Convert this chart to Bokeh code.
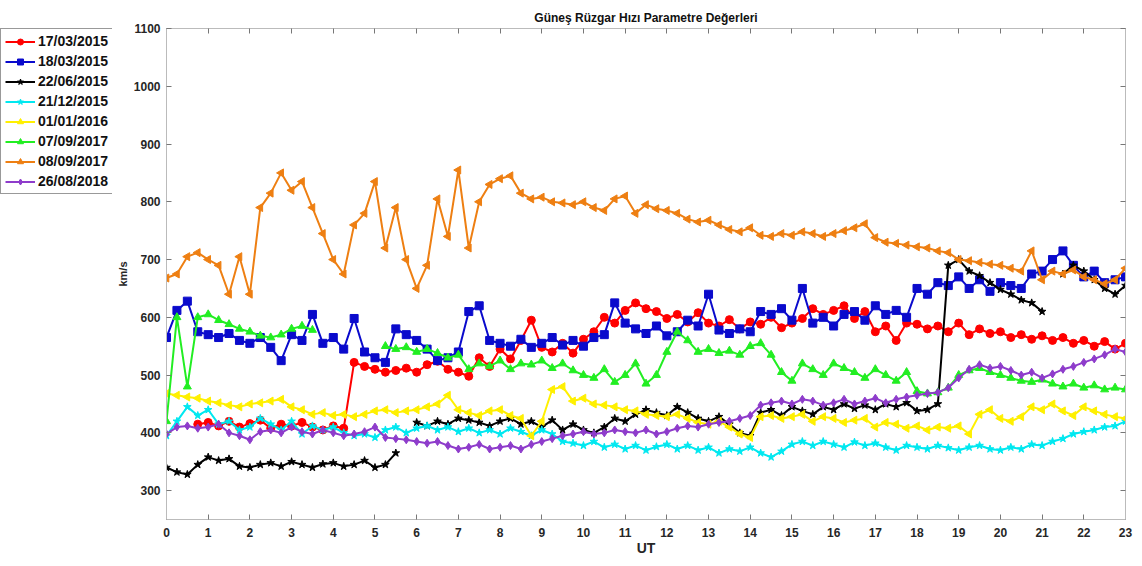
import math
from bokeh.plotting import figure
from bokeh.layouts import row
from bokeh.models import (Range1d, FixedTicker, LinearAxis, Legend, LegendItem,
                          CustomJSTickFormatter)
from bokeh.embed import file_html
from bokeh.resources import INLINE

NaN = float("nan")
STEP = 0.25  # hours between samples

labels = ["17/03/2015", "18/03/2015", "22/06/2015", "21/12/2015",
          "01/01/2016", "07/09/2017", "08/09/2017", "26/08/2018"]

red_1703 = [NaN, NaN, NaN,
            415, 418, 412, 420, 410, 416, 422, 408, 415, 412, 418, 410, 405, 412, 408,
            522, 515, 510, 505, 508, 512, 505, 518, 524, 510, 505, 498, 530, 515, 545, 528,
            560, 595, 548, 540, 555, 538, 562, 575, 600, 590, 612, 625, 615, 610, 598, 605,
            592, 608, 590, 585, 596, 580, 592, 588, 600, 582, 590, 598, 615, 605, 612, 620,
            598, 610, 575, 585, 560, 590, 588, 580, 585, 575, 590, 570, 580, 572, 575, 565,
            570, 562, 568, 560, 565, 555, 560, 550, 558, 545, 555]

blue_1803 = [565, 612, 628, 575, 570, 565, 572, 560, 555, 565, 548, 525, 570, 560, 605, 555,
             565, 545, 598, 540, 530, 522, 580, 570, 560, 545, 525, 530, 540, 610, 620, 560,
             555, 550, 562, 548, 555, 565, 552, 560, 550, 565, 570, 625, 590, 580, 572, 585,
             568, 575, 595, 585, 640, 578, 572, 580, 575, 610, 605, 615, 595, 650, 590, 600,
             585, 605, 610, 595, 620, 605, 612, 600, 650, 640, 660, 655, 670, 650, 665, 645,
             660, 655, 650, 675, 680, 700, 715, 690, 670, 680, 660, 665, 670]

black_2206 = [340, 332, 328, 345, 358, 352, 355, 342, 340, 345, 348, 342, 350, 345, 340, 346,
              348, 342, 345, 352, 340, 345, 365, NaN,
              418, 412, 420, 415, 425, 422, 418, 412, 420, 425, 415, 420, 410, 422, 405, 415,
              405, 400, 410, 425, 420, 432, 440, 435, 430, 445, 435, 425, 420, 428, 415, 400,
              395, 435, 440, 430, 445, 438, 432, 445, 440, 450, 442, 448, 440, 450, 445, 452,
              438, 440, 450, 690, 700, 680, 672, 660, 648, 640, 630, 625, 610, NaN,
              675, 690, 680, 665, 650, 640, 655]

cyan_2112 = [395, 420, 445, 430, 440, 415, 420, 405, 410, 425, 415, 405, 420, 398, 412, 405,
             410, 400, 395, 398, 392, 405, 410, 400, 408, 412, 405, 410, 402, 408, 400, 405,
             398, 408, 402, 395, 405, 398, 385, 382, 378, 385, 375, 380, 372, 378, 370, 376,
             380, 372, 378, 370, 375, 365, 372, 368, 375, 365, 358, 368, 380, 385, 378, 385,
             380, 375, 384, 378, 382, 375, 370, 378, 375, 372, 378, 374, 370, 375, 378, 372,
             370, 375, 372, 380, 378, 385, 390, 398, 402, 405, 410, 412, 420]

yellow_0101 = [468, 465, 462, 460, 455, 452, 448, 445, 450, 452, 455, 458, 445, 440, 432, 435,
               430, 432, 428, 432, 438, 440, 435, 438, 440, 445, 450, 465, 440, 435, 430, 438,
               440, 430, 425, 395, 420, 475, 480, 455, 460, 450, 448, 445, 440, 438, 432, 430,
               428, 432, 425, 418, 415, 420, 410, 398, 392, 428, 430, 425, 428, 432, 420, 428,
               425, 418, 422, 425, 410, 418, 415, 408, 412, 405, 410, 408, 412, 398, 432, 440,
               425, 420, 428, 445, 440, 450, 438, 430, 445, 438, 432, 428, 425]

green_0709 = [420, 600, 480, 600, 605, 595, 588, 580, 575, 568, 565, 570, 580, 585, 578,
              NaN, NaN, NaN, NaN, NaN, NaN,
              550, 545, 548, 540, 545, 538, 530, 535, 510, 520, 515, 525, 510, 520, 518, 525,
              512, 520, 508, 500, 495, 510, 488, 500, 520, 485, 500, 540, 575, 560, 540, 545,
              538, 542, 535, 550, 555, 535, 505, 490, 520, 510, 500, 520, 512, 505, 495, 510,
              500, 490, 505, 472, 468, 470, 478, 500, 508, 512, 505, 500, 495, 490, 488, 492,
              485, 480, 485, 478, 482, 475, 478, 475]

orange_0809 = [668, 675, 705, 712, 700, 690, 640, 705, 640, 790, 815, 850, 820, 835, 790, 745,
               700, 675, 760, 780, 835, 720, 790, 700, 650, 690, 805, 740, 855, 720, 800, 830,
               840, 845, 815, 805, 808, 800, 798, 795, 800, 790, 785, 805, 810, 780, 795, 788,
               785, 780, 770, 765, 768, 760, 752, 748, 755, 742, 740, 745, 742, 748, 745, 740,
               745, 750, 755, 762, 738, 730, 728, 725, 722, 720, 715, 712, 700, 698, 695, 692,
               690, 685, 680, 715, 665, 680, 675, 682, 670, 665, 658, 665, 685]

purple_2608 = [398, 410, 412, 408, 410, 415, 400, 395, 388, 402, 405, 400, 410, 402, 398, 405,
               400, 395, 398, 402, 410, 392, 390, 388, 385, 382, 385, 378, 372, 375, 380, 372,
               375, 378, 372, 380, 385, 390, 395, 398, 402, 398, 400, 405, 402, 400, 405, 398,
               402, 408, 412, 410, 415, 418, 420, 425, 430, 448, 452, 455, 450, 458, 455, 448,
               452, 458, 450, 455, 460, 452, 458, 462, 465, 468, 470, 478, 495, 510, 518, 512,
               515, 508, 500, 505, 495, 502, 510, 515, 522, 528, 535, 545, 540]

series = [red_1703, blue_1803, black_2206, cyan_2112, yellow_0101, green_0709, orange_0809, purple_2608]
colors = ["#FF0000", "#0A0ACC", "#000000", "#00E8F0", "#FFF000", "#22EE22", "#EE7F12", "#8E3CCB"]
markers = ["circle", "square", "star", "star", "triangle", "triangle", "triangle", "diamond"]
angles = [0, 0, 0, 0, math.pi / 2, 0, math.pi / 2, 0]
x_ticks = list(range(0, 24))
y_ticks = list(range(300, 1101, 100))

FONT = "Liberation Sans"
TXT = "#262626"
H = 560
LEG_W = 112

# ---------------- main chart ----------------
p = figure(width=1134 - LEG_W, height=H, output_backend="svg", toolbar_location=None,
           x_range=Range1d(0, 23), y_range=Range1d(250, 1100),
           min_border_left=166 - LEG_W, min_border_right=9, min_border_top=27,
           min_border_bottom=H - 519)
p.title.text = "Güneş Rüzgar Hızı Parametre Değerleri"
p.title.align = "center"
p.title.text_font = FONT
p.title.text_font_size = "12px"
p.title.text_font_style = "bold"
p.title.text_color = "#111111"
p.title.offset = 0
p.title.standoff = 8

p.xgrid.visible = False
p.ygrid.visible = False
p.outline_line_color = "#BBBBBB"

for ax, ticks in ((p.xaxis[0], x_ticks), (p.yaxis[0], y_ticks)):
    ax.ticker = FixedTicker(ticks=ticks)
    ax.minor_tick_line_color = None
    ax.major_tick_in = 5
    ax.major_tick_out = 0
    ax.axis_line_color = "#BBBBBB"
    ax.major_tick_line_color = "#777777"
    ax.major_label_text_font = FONT
    ax.major_label_text_font_style = "bold"
    ax.major_label_text_font_size = "12px"
    ax.major_label_text_color = TXT
    ax.axis_label_text_font = FONT
    ax.axis_label_text_font_style = "bold"
    ax.axis_label_text_color = TXT

p.xaxis.axis_label = "UT"
p.xaxis.axis_label_text_font_size = "14px"
p.xaxis.major_label_standoff = 8
p.xaxis.axis_label_standoff = 0
p.yaxis.axis_label = "km/s"
p.yaxis.axis_label_text_font_size = "11px"
p.yaxis.major_label_standoff = 6
p.yaxis.axis_label_standoff = 2

blank = CustomJSTickFormatter(code="return ''")
for loc, ticks in (("above", x_ticks), ("right", y_ticks)):
    ax = LinearAxis(ticker=FixedTicker(ticks=ticks), formatter=blank,
                    minor_tick_line_color=None, major_tick_in=5, major_tick_out=0,
                    axis_line_color="#BBBBBB", major_tick_line_color="#777777",
                    major_label_standoff=0)
    p.add_layout(ax, loc)

for vals, col, mk, ang in zip(series, colors, markers, angles):
    t = [i * STEP for i in range(len(vals))]
    p.line(t, vals, line_color=col, line_width=2)
    p.scatter(t, vals, marker=mk, size=8, angle=ang, fill_color=col, line_color=col)

# ---------------- legend panel (left of the y axis) ----------------
# its renderers hold the same series but the view range is set away from them,
# so only the legend swatches are visible here
lg = figure(width=LEG_W, height=H, output_backend="svg", toolbar_location=None,
            x_range=Range1d(100, 101), y_range=Range1d(0, 1),
            min_border_left=0, min_border_right=0, min_border_top=28, min_border_bottom=0)
lg.axis.visible = False
lg.xgrid.visible = False
lg.ygrid.visible = False
lg.outline_line_color = None

items = []
for vals, col, mk, ang, lab in zip(series, colors, markers, angles, labels):
    t = [i * STEP for i in range(len(vals))]
    ln = lg.line(t, vals, line_color=col, line_width=2)
    sc = lg.scatter(t, vals, marker=mk, size=8, angle=ang, fill_color=col, line_color=col)
    items.append(LegendItem(label=lab, renderers=[ln, sc]))

legend = Legend(items=items, location="top_left", orientation="vertical",
                label_text_font=FONT, label_text_font_style="bold",
                label_text_font_size="14px", label_text_color="#111111",
                glyph_width=30, glyph_height=15, label_height=15, spacing=4,
                padding=4, margin=0, label_standoff=3,
                border_line_color="#333333", border_line_width=1,
                background_fill_color="white", background_fill_alpha=1.0)
lg.add_layout(legend, "center")

layout = row(lg, p)
open("out.html", "w").write(file_html(layout, INLINE))
